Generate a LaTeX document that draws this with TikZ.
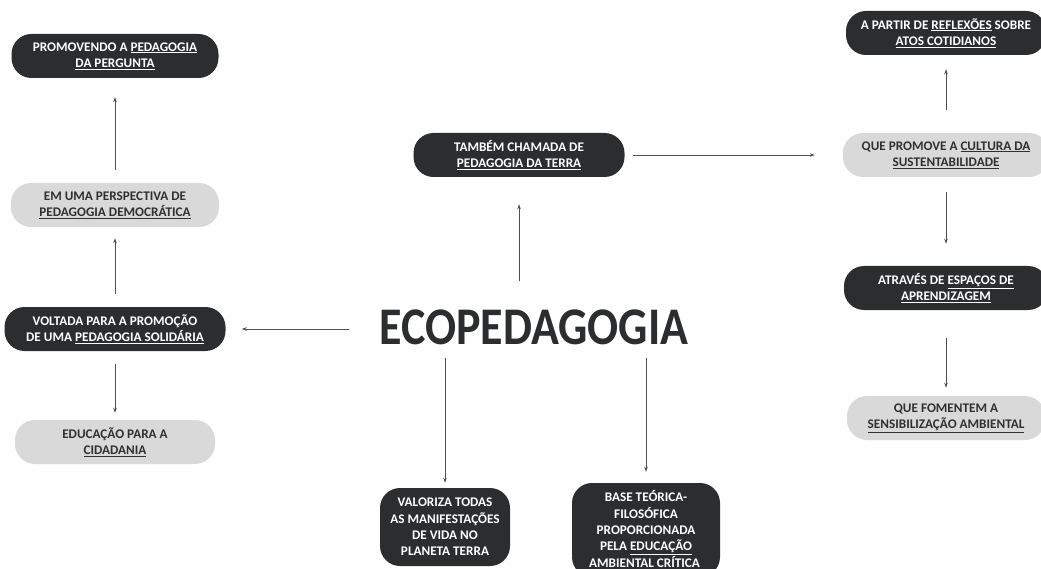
\documentclass[tikz,border=0pt]{standalone}
\usepackage{fontspec}
\setmainfont{Carlito}
\usetikzlibrary{arrows.meta}
\definecolor{boxdark}{HTML}{2B2D2F}
\definecolor{boxlight}{HTML}{D9D9D9}
\definecolor{txtdark}{HTML}{303030}
\definecolor{linegray}{HTML}{505050}
\newcommand{\ul}[1]{\underline{#1}}

\begin{document}
\begin{tikzpicture}[x=1pt, y=-1pt,
    pill/.style={rectangle, rounded corners=20pt, align=center, inner sep=0pt,
        minimum height=44pt, font=\bfseries\fontsize{13.2}{16.4}\selectfont},
    darkbox/.style={pill, fill=boxdark, text=white},
    lightbox/.style={pill, fill=boxlight, text=txtdark},
    link/.style={draw=linegray, line width=0.8pt, -{Stealth[length=5pt, width=3.5pt]}}]
\useasboundingbox (0,0) rectangle (1041,569);

% Central concept
\node[inner sep=0pt, text=boxdark, font=\bfseries\fontsize{46}{50}\selectfont] (eco) at (534,327) {\scalebox{1}[1.15]{ECOPEDAGOGIA}};

% Left column
\node[darkbox, minimum width=207pt] (pergunta) at (115,56) {PROMOVENDO A \ul{PEDAGOGIA}\\\ul{DA PERGUNTA}};
\node[lightbox, minimum width=208pt] (democratica) at (115,205) {EM UMA PERSPECTIVA DE\\\ul{PEDAGOGIA DEMOCRÁTICA}};
\node[darkbox, minimum width=221pt] (solidaria) at (115,329) {VOLTADA PARA A PROMOÇÃO\\DE UMA \ul{PEDAGOGIA SOLIDÁRIA}};
\node[lightbox, minimum width=200pt] (cidadania) at (115,442) {EDUCAÇÃO PARA A\\\ul{CIDADANIA}};

% Middle
\node[darkbox, minimum width=211pt] (terra) at (519,155) {TAMBÉM CHAMADA DE\\\ul{PEDAGOGIA DA TERRA}};
\node[darkbox, minimum width=130pt, minimum height=78pt] (vida) at (445,527) {VALORIZA TODAS\\AS MANIFESTAÇÕES\\DE VIDA NO\\PLANETA TERRA};
\node[darkbox, minimum width=148pt, minimum height=94pt] (critica) at (646,530) {BASE TEÓRICA-\\FILOSÓFICA\\PROPORCIONADA\\PELA \ul{EDUCAÇÃO}\\\ul{AMBIENTAL CRÍTICA }};

% Right column
\node[darkbox, minimum width=200pt] (cotidianos) at (946,33) {A PARTIR DE \ul{REFLEXÕES} SOBRE\\\ul{ATOS COTIDIANOS}};
\node[lightbox, minimum width=206pt] (cultura) at (946,155) {QUE PROMOVE A \ul{CULTURA DA}\\\ul{SUSTENTABILIDADE}};
\node[darkbox, minimum width=204pt] (espacos) at (946,288) {ATRAVÉS DE \ul{ESPAÇOS DE}\\\ul{APRENDIZAGEM}};
\node[lightbox, minimum width=198pt] (sensibilizacao) at (946,418) {QUE FOMENTEM A\\\ul{SENSIBILIZAÇÃO AMBIENTAL}};

% Links between boxes
\foreach \a/\b/\s/\e in {solidaria/democratica/13/11, democratica/pergunta/13/19,
        solidaria/cidadania/13/7, cultura/cotidianos/23/14, cultura/espacos/15/22,
        espacos/sensibilizacao/28/8, terra/cultura/8/28}
    \draw[link, shorten <=\s pt, shorten >=\e pt] (\a) -- (\b);

% Links from the central concept
\draw[link, shorten <=30pt, shorten >=16pt] (eco.west |- solidaria.east) -- (solidaria.east);
\draw[link, shorten <=28pt, shorten >=27pt] (eco.north -| terra.south) -- (terra.south);
\draw[link, shorten <=13pt, shorten >=5pt] (eco.south -| vida.north) -- (vida.north);
\draw[link, shorten <=13pt, shorten >=11pt] (eco.south -| critica.north) -- (critica.north);
\end{tikzpicture}
\end{document}
